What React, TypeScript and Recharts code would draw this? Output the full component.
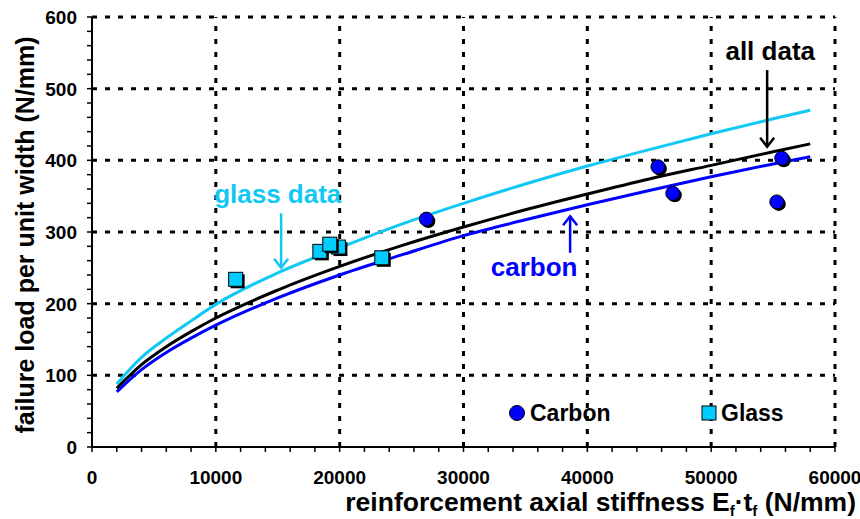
import { ComposedChart, Line, Scatter, XAxis, YAxis, ReferenceLine, ReferenceDot } from 'recharts'

// fitted curves
const fitX = [2000, 4000, 6000, 8000, 10000, 15000, 20000, 25000, 30000, 35000, 40000, 45000, 50000, 55000, 58000]
const glassFit = [88, 125, 152, 176, 199, 243, 278, 311, 340, 367, 392, 415, 437, 458, 470]
const allFit = [82, 115, 140, 161, 180, 219, 252, 281, 307, 331, 353, 374, 393, 412, 423]
const carbonFit = [77, 108, 132, 152, 170, 208, 240, 268, 295, 317, 338, 358, 377, 395, 405]

// test results
const carbonX = [27000, 45700, 46900, 55700, 55300]
const carbonY = [318, 391, 354, 403, 342]
const glassX = [11600, 18400, 19900, 19200, 23400]
const glassY = [234, 273, 279, 283, 264]

// axes
const xMajor = [10000, 20000, 30000, 40000, 50000, 60000]
const yMajor = [100, 200, 300, 400, 500, 600]
const xTicks = Array.from({ length: 31 }, (_, i) => i * 2000)
const yTicks = Array.from({ length: 31 }, (_, i) => i * 20)

const CYAN = '#00CCFF'
const BLUE = '#0000FF'
const FONT = '"Liberation Sans", Arial, sans-serif'

const toPts = (xs: number[], ys: number[]) => xs.map((x, i) => ({ x, y: ys[i] }))

const CircleShape = (props: any) => {
  const { cx, cy } = props
  return (
    <g>
      <circle cx={cx + 2} cy={cy + 2} r={7} fill="#000" />
      <circle cx={cx} cy={cy} r={7} fill={BLUE} stroke="#000" strokeWidth={1} />
    </g>
  )
}

const SquareShape = (props: any) => {
  const { cx, cy } = props
  return (
    <g>
      <rect x={cx - 7 + 2} y={cy - 7 + 2} width={14} height={14} fill="#000" />
      <rect x={cx - 7} y={cy - 7} width={14} height={14} fill={CYAN} stroke="#000" strokeWidth={1} />
    </g>
  )
}

const XTick = ({ x, y, payload }: any) => {
  if (payload.value % 10000 !== 0) return <g />
  return (
    <text x={x} y={y + 30} textAnchor="middle" fontFamily={FONT} fontWeight="bold" fontSize={19} fill="#000">
      {payload.value}
    </text>
  )
}

const YTick = ({ x, y, payload }: any) => {
  if (payload.value % 100 !== 0) return <g />
  return (
    <text x={x - 8} y={y + 7} textAnchor="end" fontFamily={FONT} fontWeight="bold" fontSize={19} fill="#000">
      {payload.value}
    </text>
  )
}

const arrow = (color: string) => (props: any) => {
  const { x1, y1, x2, y2 } = props
  const dir = y2 > y1 ? -1 : 1
  return (
    <g>
      <line x1={x1} y1={y1} x2={x2} y2={y2} stroke={color} strokeWidth={2.5} />
      <polyline
        points={`${x2 - 7},${y2 + dir * 9} ${x2},${y2} ${x2 + 7},${y2 + dir * 9}`}
        fill="none"
        stroke={color}
        strokeWidth={2.5}
      />
    </g>
  )
}

const note = (text: string, color: string) => (props: any) => (
  <text x={props.cx} y={props.cy} textAnchor="middle" fontFamily={FONT} fontWeight="bold" fontSize={26} fill={color}>
    {text}
  </text>
)

const gridProps = { stroke: '#000', strokeWidth: 3, strokeDasharray: '5 8' }

const App = () => {
  return (
    <div style={{ position: 'absolute', left: 0, top: 0, width: 860, height: 519, background: '#fff' }}>
      <ComposedChart width={860} height={519} margin={{ top: 17, right: 25, bottom: 22, left: 22 }}>
        <XAxis
          dataKey="x"
          type="number"
          domain={[0, 60000]}
          ticks={xTicks}
          interval={0}
          tick={<XTick />}
          tickSize={5}
          height={50}
          axisLine={{ stroke: '#000', strokeWidth: 2 }}
          tickLine={{ stroke: '#000', strokeWidth: 1.5 }}
          allowDataOverflow
        />
        <YAxis
          type="number"
          domain={[0, 600]}
          ticks={yTicks}
          interval={0}
          tick={<YTick />}
          tickSize={5}
          width={70}
          axisLine={{ stroke: '#000', strokeWidth: 2 }}
          tickLine={{ stroke: '#000', strokeWidth: 1.5 }}
          allowDataOverflow
        />
        {xMajor.map((v) => (
          <ReferenceLine key={`gx-${v}`} x={v} {...gridProps} />
        ))}
        {yMajor.map((v) => (
          <ReferenceLine key={`gy-${v}`} y={v} {...gridProps} />
        ))}

        <Line data={toPts(fitX, glassFit)} dataKey="y" type="monotone" stroke="#11C8F5" strokeWidth={3} dot={false} isAnimationActive={false} />
        <Line data={toPts(fitX, allFit)} dataKey="y" type="monotone" stroke="#000" strokeWidth={3} dot={false} isAnimationActive={false} />
        <Line data={toPts(fitX, carbonFit)} dataKey="y" type="monotone" stroke={BLUE} strokeWidth={3} dot={false} isAnimationActive={false} />

        <Scatter name="Carbon" data={toPts(carbonX, carbonY)} dataKey="y" shape={<CircleShape />} isAnimationActive={false} />
        <Scatter name="Glass" data={toPts(glassX, glassY)} dataKey="y" shape={<SquareShape />} isAnimationActive={false} />

        {/* annotations */}
        <ReferenceLine segment={[{ x: 15270, y: 326 }, { x: 15270, y: 250 }]} shape={arrow('#11C8F5')} />
        <ReferenceLine segment={[{ x: 38610, y: 271 }, { x: 38610, y: 322 }]} shape={arrow(BLUE)} />
        <ReferenceLine segment={[{ x: 54520, y: 526 }, { x: 54520, y: 419 }]} shape={arrow('#000')} />
        <ReferenceDot x={15000} y={340} r={0} shape={note('glass data', '#11C8F5')} />
        <ReferenceDot x={35700} y={239} r={0} shape={note('carbon', BLUE)} />
        <ReferenceDot x={54770} y={540} r={0} shape={note('all data', '#000')} />
      </ComposedChart>

      {/* axis titles */}
      <svg width={860} height={519} style={{ position: 'absolute', left: 0, top: 0, pointerEvents: 'none' }}>
        <text
          transform="translate(34, 235) rotate(-90)"
          textAnchor="middle"
          fontFamily={FONT}
          fontWeight="bold"
          fontSize={25}
          fill="#000"
        >
          failure load per unit width (N/mm)
        </text>
        <text x={856} y={511} textAnchor="end" fontFamily={FONT} fontWeight="bold" fontSize={26.5} fill="#000">
          reinforcement axial stiffness E
          <tspan fontSize={15} dy={5}>f</tspan>
          <tspan dy={-5}>·t</tspan>
          <tspan fontSize={15} dy={5}>f</tspan>
          <tspan dy={-5}> (N/mm)</tspan>
        </text>
        {/* legend */}
        <circle cx={517} cy={413} r={7.5} fill={BLUE} stroke="#000" strokeWidth={1} />
        <text x={530} y={421} fontFamily={FONT} fontWeight="bold" fontSize={23} fill="#000">Carbon</text>
        <rect x={702} y={406} width={14} height={14} fill={CYAN} stroke="#000" strokeWidth={1} />
        <text x={721} y={421} fontFamily={FONT} fontWeight="bold" fontSize={23} fill="#000">Glass</text>
      </svg>
    </div>
  )
}

export default App
